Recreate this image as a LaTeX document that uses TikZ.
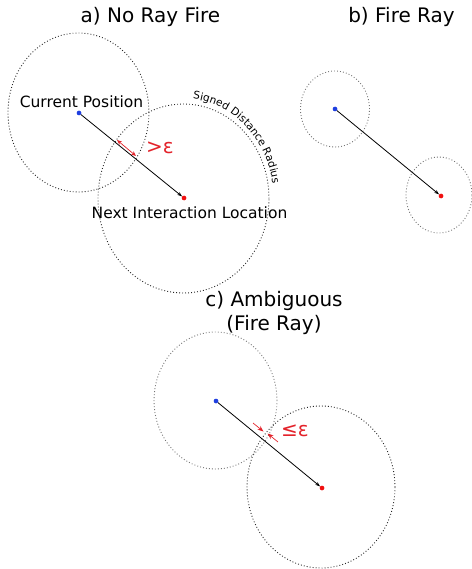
\documentclass[tikz,border=0pt]{standalone}
\usepackage{fontspec}
\setmainfont{DejaVu Sans}
\usepackage{tikz}
\usetikzlibrary{arrows.meta,calc,decorations.text}
\definecolor{epsred}{HTML}{E3222A}
\definecolor{posblue}{HTML}{1F3FE0}
\definecolor{hitred}{HTML}{F01010}
\tikzset{
  rng/.style    ={draw=black!85, line width=0.9pt, dash pattern=on 0.9pt off 2.1pt},
  rnglt/.style  ={rng, draw=black!55},
  ray/.style    ={-{Stealth[length=5pt,width=3.5pt]}, line width=0.8pt},
  gap/.style    ={{Stealth[length=5pt,width=4pt]}-{Stealth[length=5pt,width=4pt]}, draw=epsred, line width=0.7pt},
  push/.style   ={-{Stealth[length=6pt,width=4.5pt]}, draw=epsred, line width=0.7pt},
  dotcur/.style ={circle, fill=posblue, inner sep=0pt, minimum size=4.5pt},
  dotnext/.style={circle, fill=hitred, inner sep=0pt, minimum size=4.5pt},
  ttl/.style    ={font=\fontsize{20}{24}\selectfont, align=center},
  lbl/.style    ={font=\fontsize{15.5}{18}\selectfont},
  eps/.style    ={font=\fontsize{20}{24}\selectfont, text=epsred},
}
\begin{document}
\begin{tikzpicture}[x=1pt,y=1pt]
\useasboundingbox (0,0) rectangle (471,-569);
\node[ttl] (ta) at (150.5,-17) {a) No Ray Fire};
\node[ttl] (tb) at (401.5,-17) {b) Fire Ray};
\node[ttl] (tc) at (274,-313) {c) Ambiguous\\(Fire Ray)};
\node[dotcur]  (cura)  at (79,-113) {};
\node[dotnext] (nexta) at (184,-198) {};
\draw[rng] (78.5,-112.5) ellipse [x radius=70.5, y radius=79.5];
\draw[rng] (183.5,-198.5) ellipse [x radius=85.5, y radius=94.5];
\draw[ray] (cura) -- (nexta);
\node[dotcur]  at (cura) {};
\node[dotnext] at (nexta) {};
\coordinate (ina)  at (117,-140);
\coordinate (outa) at (136,-156);
\draw[gap] (ina) -- (outa);
\node[eps] (epsa) at (160,-148) {>ε};
\node[lbl] (lcur)  at (81.5,-102) {Current Position};
\node[lbl] (lnext) at (189.5,-213) {Next Interaction Location};
\path[decorate, decoration={text along path,
  text={|\fontsize{10.6}{12}\selectfont|Signed Distance Radius}}]
  ($(183.5,-198.5)+(84:90 and 100)$) arc[start angle=84, end angle=5, x radius=90, y radius=100];
\node[dotcur]  (curb)  at (335,-109) {};
\node[dotnext] (nextb) at (441,-196) {};
\draw[rnglt] (335,-109) ellipse [x radius=34.5, y radius=38];
\draw[rnglt] (439,-195) ellipse [x radius=33, y radius=38];
\draw[ray] (curb) -- (nextb);
\node[dotcur]  at (curb) {};
\node[dotnext] at (nextb) {};
\node[dotcur]  (curc)  at (216,-401) {};
\node[dotnext] (nextc) at (322,-488) {};
\draw[rnglt] (215.5,-400.5) ellipse [x radius=61.5, y radius=68.5];
\draw[rng] (321,-487) ellipse [x radius=74, y radius=81];
\draw[ray] (curc) -- (nextc);
\node[dotcur]  at (curc) {};
\node[dotnext] at (nextc) {};
\coordinate (pa) at (253,-423);
\coordinate (ha) at (263.5,-431.5);
\coordinate (pb) at (278,-442);
\coordinate (hb) at (267.5,-433.5);
\draw[push] (pa) -- (ha);
\draw[push] (pb) -- (hb);
\node[eps] (epsc) at (295,-431) {≤ε};
\end{tikzpicture}
\end{document}
